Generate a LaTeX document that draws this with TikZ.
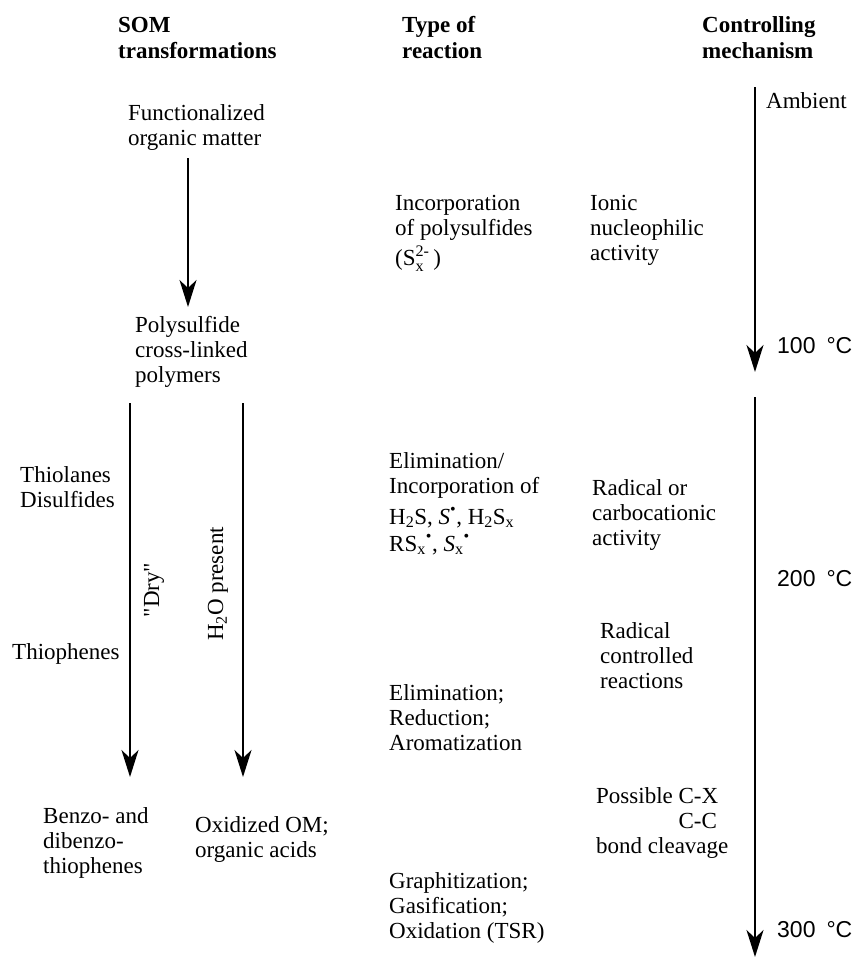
\documentclass[tikz,border=0pt]{standalone}
\usepackage{fontspec}
\usepackage{amsmath}
\setmainfont{Liberation Serif}
\newfontfamily\tempfont{Liberation Sans}
\usetikzlibrary{arrows.meta}
\newcommand{\mlines}[1]{\begin{tabular}[t]{@{}l@{}}#1\end{tabular}}
\tikzset{
  txt/.style={anchor=base west, inner sep=0pt, font=\fontsize{23}{25}\selectfont},
  hdr/.style={anchor=base west, inner sep=0pt, font=\fontsize{23}{26}\selectfont\bfseries},
  temp/.style={anchor=base west, inner sep=0pt, font=\tempfont\fontsize{23}{25}\selectfont},
  vlab/.style={anchor=center, inner sep=0pt, rotate=90, font=\fontsize{23}{25}\selectfont},
  arr/.style={line width=1.9pt, -{Stealth[length=27pt,width=17pt,inset=8pt]}},
}
\begin{document}
\begin{tikzpicture}[x=1pt,y=-1pt]
\useasboundingbox (0,0) rectangle (859,958);
% headers
\node[hdr] (hsom) at (118,33) {\mlines{SOM\\transformations}};
\node[hdr] (htype) at (402,33) {\mlines{Type of\\reaction}};
\node[hdr] (hctrl) at (702,33) {\mlines{Controlling\\mechanism}};
% left column
\node[txt] (fom) at (128,120) {\mlines{Functionalized\\organic matter}};
\node[txt] (psp) at (135,332) {\mlines{Polysulfide\\cross-linked\\polymers}};
\node[txt] (thiol) at (20,482) {\mlines{Thiolanes\\Disulfides}};
\node[txt] (thioph) at (12,659) {Thiophenes};
\node[vlab] (dry) at (154,590) {\textquotedbl Dry\textquotedbl};
\node[vlab] (h2o) at (218,584) {H\textsubscript{2}O present};
\node[txt] (benzo) at (43,823) {\mlines{Benzo- and\\dibenzo-\\thiophenes}};
\node[txt] (oxid) at (195,832) {\mlines{Oxidized OM;\\organic acids}};
% middle column
\node[txt] (inc1) at (395,210) {\mlines{Incorporation\\of polysulfides\\[3pt](S$^{\text{2-}}_{\text{x}}$\,)}};
\node[txt] (elim1) at (389,468) {\mlines{Elimination/\\Incorporation of\\[6pt]H\textsubscript{2}S, \textit{S}\textsuperscript{\textbullet}, H\textsubscript{2}S\textsubscript{x}\\[2pt]RS\textsubscript{x}\textsuperscript{\textbullet}, \textit{S}\textsubscript{x}\textsuperscript{\textbullet}}};
\node[txt] (elim2) at (389,700) {\mlines{Elimination;\\Reduction;\\Aromatization}};
\node[txt] (graph) at (389,888) {\mlines{Graphitization;\\Gasification;\\Oxidation (TSR)}};
% mechanism column
\node[txt] (ionic) at (590,210) {\mlines{Ionic\\nucleophilic\\activity}};
\node[txt] (rad1) at (592,495) {\mlines{Radical or\\carbocationic\\activity}};
\node[txt] (rad2) at (600,638) {\mlines{Radical\\controlled\\reactions}};
\node[txt] (poss) at (596,803) {\mlines{Possible C-X\\\hphantom{Possible }C-C\\bond cleavage}};
% temperature scale
\node[txt] (amb) at (766,108) {Ambient};
\node[temp] (t100) at (777,353) {100\hspace{0.2em} °C};
\node[temp] (t200) at (777,586) {200\hspace{0.2em} °C};
\node[temp] (t300) at (777,937) {300\hspace{0.2em} °C};
% arrow end points
\coordinate (a0s) at (188,158);
\coordinate (a0e) at (188,307);
\coordinate (ads) at (130,403);
\coordinate (ade) at (130,777);
\coordinate (aws) at (243,403);
\coordinate (awe) at (243,777);
\coordinate (t1s) at (755,87);
\coordinate (t1e) at (755,372);
\coordinate (t2s) at (755,397);
\coordinate (t2e) at (755,957);
\draw[arr] (a0s) -- (a0e);
\draw[arr] (ads) -- (ade);
\draw[arr] (aws) -- (awe);
\draw[arr] (t1s) -- (t1e);
\draw[arr] (t2s) -- (t2e);
\end{tikzpicture}
\end{document}
